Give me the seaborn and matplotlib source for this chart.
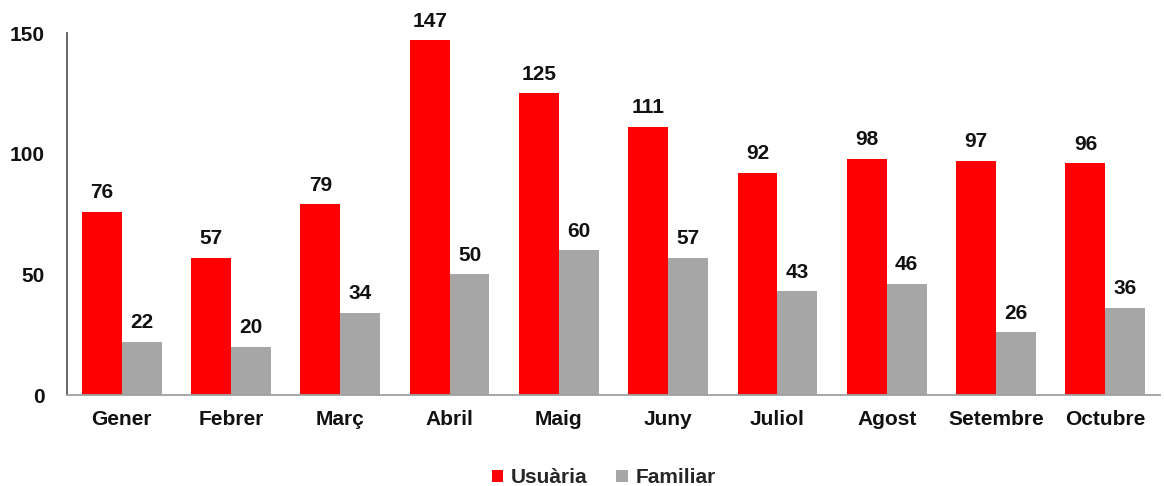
import pandas as pd
import matplotlib.pyplot as plt
import seaborn as sns

# data
mesos = ['Gener', 'Febrer', 'Març', 'Abril', 'Maig', 'Juny', 'Juliol', 'Agost', 'Setembre', 'Octubre']
usuaria = [76, 57, 79, 147, 125, 111, 92, 98, 97, 96]
familiar = [22, 20, 34, 50, 60, 57, 43, 46, 26, 36]

df = pd.DataFrame({
    'mes': mesos * 2,
    'valor': usuaria + familiar,
    'tipus': ['Usuària'] * len(mesos) + ['Familiar'] * len(mesos),
})

sns.set_style('white')
plt.rcParams['font.family'] = ['Liberation Sans', 'DejaVu Sans']
plt.rcParams['font.weight'] = 'bold'

fig = plt.figure(figsize=(11.64, 4.86), dpi=100)
ax = fig.add_axes([0.0576, 0.187, 0.939, 0.745])

sns.barplot(data=df, x='mes', y='valor', hue='tipus',
            palette={'Usuària': '#ff0000', 'Familiar': '#a6a6a6'},
            width=0.73, saturation=1, linewidth=0, ax=ax)

for cont in ax.containers:
    ax.bar_label(cont, padding=7, fontsize=15, fontweight='bold', color='#111111')

ax.set_ylim(0, 150)
ax.set_xlim(-0.5, 9.5)
ax.set_yticks([0, 50, 100, 150])
ax.set_xlabel('')
ax.set_ylabel('')
ax.tick_params(axis='both', length=0, labelsize=15, colors='#111111')
ax.tick_params(axis='x', pad=11)
ax.tick_params(axis='y', pad=16)
for lab in ax.get_xticklabels() + ax.get_yticklabels():
    lab.set_fontweight('bold')

sns.despine(ax=ax, top=True, right=True)
ax.spines['left'].set_color('#595959')
ax.spines['bottom'].set_color('#a0a0a0')
ax.spines['left'].set_linewidth(1.3)
ax.spines['bottom'].set_linewidth(1.3)

ax.legend(loc='lower center', bbox_to_anchor=(0.491, -0.295), ncol=2, frameon=False,
          handlelength=0.55, handleheight=0.55, columnspacing=1.4,
          handletextpad=0.35, borderpad=0.2, prop={'weight': 'bold', 'size': 15})

fig.savefig('out.png', dpi=100)
